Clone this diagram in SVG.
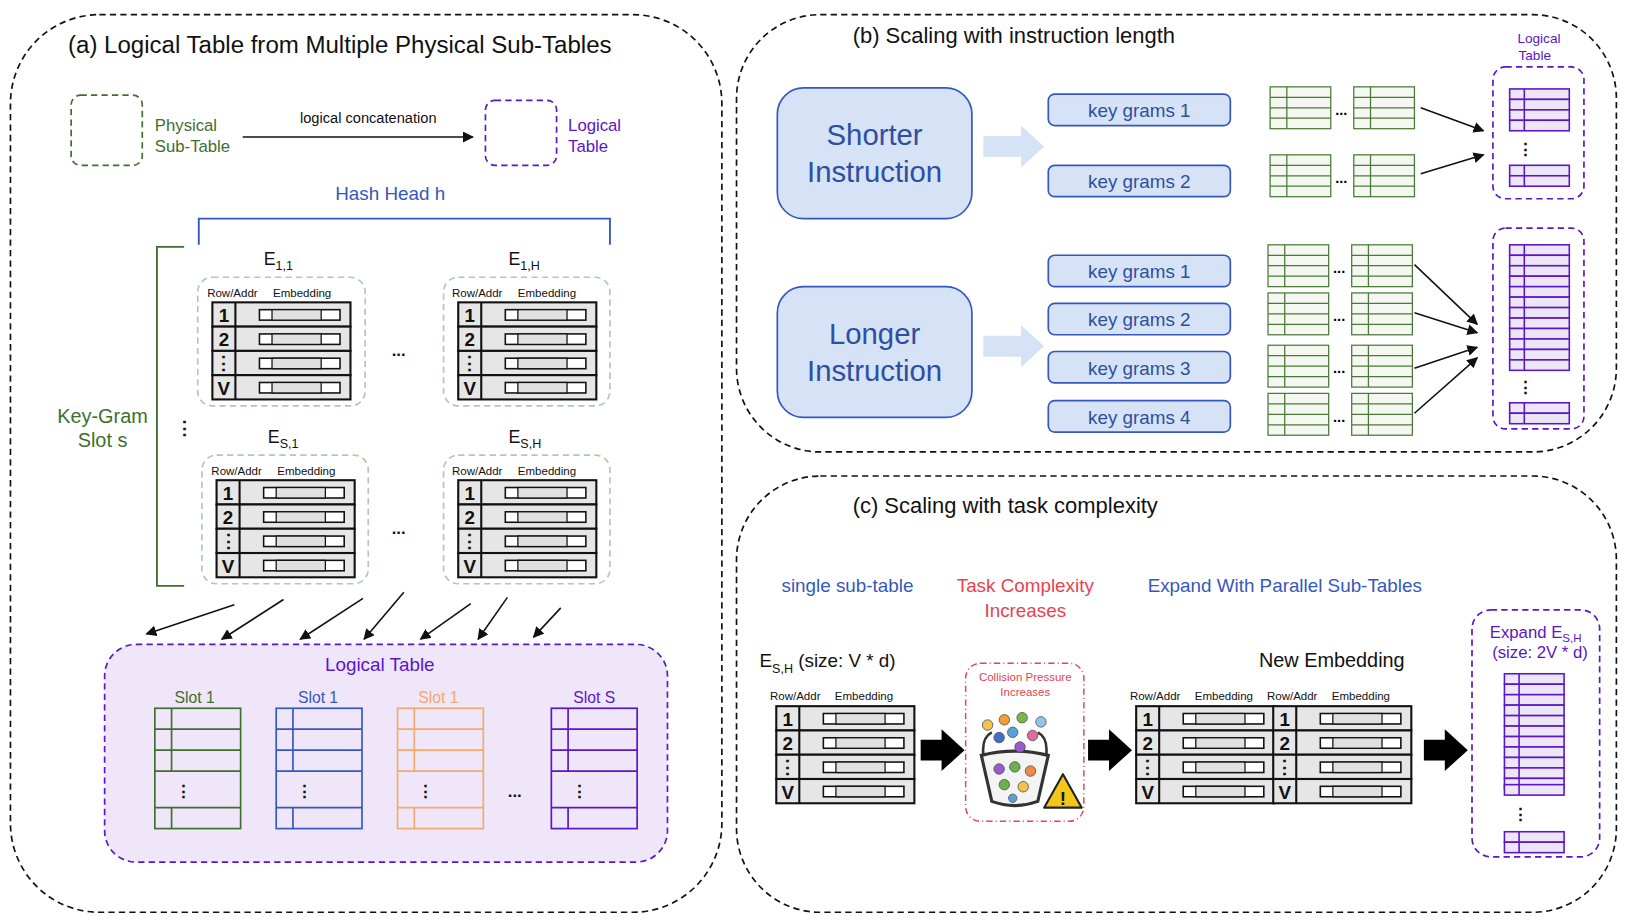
<svg xmlns="http://www.w3.org/2000/svg" xmlns:xlink="http://www.w3.org/1999/xlink" width="1632" height="920" viewBox="0 0 1632 920">
<style>
text{font-family:"Liberation Sans",Arial,sans-serif}
.panel{fill:none;stroke:#111;stroke-width:1.6;stroke-dasharray:6 4}
.blk{fill:#111}
.grn{fill:#3f6f2e}.pur{fill:#5a16c9}.blu{fill:#3557c0}.red{fill:#e8434f}.org{fill:#f5a96a}
.kg{fill:#d6e2f5;stroke:#3557c0;stroke-width:1.6}
.conn{stroke:#111;stroke-width:1.5;fill:none}
.sub{fill:none;stroke:#b8c4b8;stroke-width:1.6;stroke-dasharray:6 4}
.hd{font-size:11px;fill:#111}
</style>
<defs>
<marker id="ah" viewBox="0 0 10 10" refX="9" refY="5" markerWidth="7" markerHeight="7" orient="auto"><path d="M0,0 L10,5 L0,10z" fill="#111"/></marker>
<g id="row"><rect x="0" y="0" width="132" height="23.2" fill="#e6e6e6" stroke="#111" stroke-width="2"/><line x1="22" y1="0" x2="22" y2="23.2" stroke="#111" stroke-width="2"/><rect x="45" y="7" width="77" height="10" fill="#fff" stroke="#111" stroke-width="1.5"/><rect x="57" y="7" width="47" height="10" fill="#e0e0e0" stroke="#111" stroke-width="1.2"/></g>
<g id="tbl"><use xlink:href="#row"/><use xlink:href="#row" y="23.2"/><use xlink:href="#row" y="46.4"/><use xlink:href="#row" y="69.6"/>
<text x="11" y="19" font-size="18" font-weight="bold" text-anchor="middle" class="blk">1</text><text x="11" y="42" font-size="18" font-weight="bold" text-anchor="middle" class="blk">2</text><text x="11" y="65" font-size="18" font-weight="bold" text-anchor="middle" class="blk">⋮</text><text x="11" y="89" font-size="18" font-weight="bold" text-anchor="middle" class="blk">V</text></g>
<g id="slot" fill="none" stroke-width="1.6"><rect width="82" height="115"/><path d="M0,20H82M0,40H82M0,60H82M0,95H82M16,0V60M16,95V115"/></g>
<g id="gg" fill="#f4f8f0" stroke="#4a7a3a" stroke-width="1.2"><rect width="58" height="40"/><path d="M0,10H58M0,20H58M0,30H58M16,0V40"/></g>
<g id="pg" stroke="#5a16c9" stroke-width="1.5" fill="#ede6f7"><rect width="57" height="10"/><line x1="14" y1="0" x2="14" y2="10"/></g>
<path id="bigarr" d="M0,10H20V0L42,20L20,40V30H0z" fill="#000"/>
<path id="blarr" d="M0,10H36V0L58,20L36,40V30H0z" fill="#d6e2f5"/>
</defs>
<rect width="1632" height="920" fill="#fff"/>
<g transform="scale(1.0462)">
<g id="panel-a">
<rect class="panel" x="10" y="14" width="680" height="858" rx="85"/>
<text x="65" y="51" font-size="23" class="blk">(a) Logical Table from Multiple Physical Sub-Tables</text>
</g>
<g id="legend-physical"><rect x="68" y="91" width="68" height="67" rx="9" fill="none" stroke="#3f6f2e" stroke-width="1.6" stroke-dasharray="6 4"/><text x="148" y="125" font-size="16" class="grn">Physical</text><text x="148" y="145" font-size="16" class="grn">Sub-Table</text></g>
<g id="legend-logical"><rect x="464" y="96" width="68" height="62" rx="9" fill="none" stroke="#5a16c9" stroke-width="1.6" stroke-dasharray="6 4"/><text x="543" y="125" font-size="16" class="pur">Logical</text><text x="543" y="145" font-size="16" class="pur">Table</text></g>
<text x="352" y="118" font-size="14" text-anchor="middle" class="blk">logical concatenation</text>
<text x="373" y="191" font-size="18" text-anchor="middle" class="blu">Hash Head h</text>
<path d="M190,234V209H583V234" fill="none" stroke="#3557c0" stroke-width="1.8"/>
<path d="M176,236H150V560H176" fill="none" stroke="#3f6f2e" stroke-width="1.8"/>
<text x="98" y="404" font-size="19" text-anchor="middle" class="grn">Key-Gram</text>
<text x="98" y="427" font-size="19" text-anchor="middle" class="grn">Slot s</text>
<text x="176" y="416" font-size="18" font-weight="bold" text-anchor="middle" class="blk">⋮</text>
<g id="E11"><text x="252" y="253" font-size="17" class="blk">E<tspan font-size="12" dy="5">1,1</tspan></text><rect class="sub" x="189" y="265" width="160" height="123" rx="14"/><text x="198" y="284" class="hd">Row/Addr</text><text x="261" y="284" class="hd">Embedding</text><use xlink:href="#tbl" x="203" y="289"/></g>
<g id="E1H"><text x="486" y="253" font-size="17" class="blk">E<tspan font-size="12" dy="5">1,H</tspan></text><rect class="sub" x="424" y="265" width="159" height="123" rx="14"/><text x="432" y="284" class="hd">Row/Addr</text><text x="495" y="284" class="hd">Embedding</text><use xlink:href="#tbl" x="438" y="289"/></g>
<g id="ES1"><text x="256" y="423" font-size="17" class="blk">E<tspan font-size="12" dy="5">S,1</tspan></text><rect class="sub" x="193" y="435" width="159" height="123" rx="14"/><text x="202" y="454" class="hd">Row/Addr</text><text x="265" y="454" class="hd">Embedding</text><use xlink:href="#tbl" x="207" y="459"/></g>
<g id="ESH"><text x="486" y="423" font-size="17" class="blk">E<tspan font-size="12" dy="5">S,H</tspan></text><rect class="sub" x="424" y="435" width="159" height="123" rx="14"/><text x="432" y="454" class="hd">Row/Addr</text><text x="495" y="454" class="hd">Embedding</text><use xlink:href="#tbl" x="438" y="459"/></g>
<text x="381" y="340" font-size="16" font-weight="bold" text-anchor="middle" class="blk">...</text>
<text x="381" y="510" font-size="16" font-weight="bold" text-anchor="middle" class="blk">...</text>
<g id="logical-table">
<rect x="100" y="616" width="538" height="208" rx="30" fill="#f0e6f9" stroke="#5a16c9" stroke-width="1.6" stroke-dasharray="6 4"/>
<text x="363" y="641" font-size="18" text-anchor="middle" class="pur">Logical Table</text>
<text x="186" y="672" font-size="15" text-anchor="middle" class="grn">Slot 1</text><use xlink:href="#slot" x="148" y="677" stroke="#3f6f2e"/><text x="175" y="762" font-size="16" font-weight="bold" text-anchor="middle" class="blk">⋮</text>
<text x="304" y="672" font-size="15" text-anchor="middle" class="blu">Slot 1</text><use xlink:href="#slot" x="264" y="677" stroke="#3557c0"/><text x="291" y="762" font-size="16" font-weight="bold" text-anchor="middle" class="blk">⋮</text>
<text x="419" y="672" font-size="15" text-anchor="middle" class="org">Slot 1</text><use xlink:href="#slot" x="380" y="677" stroke="#f5a96a"/><text x="407" y="762" font-size="16" font-weight="bold" text-anchor="middle" class="blk">⋮</text>
<text x="568" y="672" font-size="15" text-anchor="middle" class="pur">Slot S</text><use xlink:href="#slot" x="527" y="677" stroke="#5a16c9"/><text x="554" y="762" font-size="16" font-weight="bold" text-anchor="middle" class="blk">⋮</text>
<text x="492" y="762" font-size="16" font-weight="bold" text-anchor="middle" class="blk">...</text>
</g>
<g id="panel-b"><rect class="panel" x="704" y="14" width="841" height="418" rx="80"/>
<text x="815" y="41" font-size="21" class="blk">(b) Scaling with instruction length</text></g>
<g id="shorter"><rect x="743" y="84" width="186" height="125" rx="25" class="kg"/><text x="836" y="139" font-size="28" text-anchor="middle" fill="#2e4fa0">Shorter</text><text x="836" y="174" font-size="28" text-anchor="middle" fill="#2e4fa0">Instruction</text></g>
<g id="longer"><rect x="743" y="274" width="186" height="125" rx="25" class="kg"/><text x="836" y="329" font-size="28" text-anchor="middle" fill="#2e4fa0">Longer</text><text x="836" y="364" font-size="28" text-anchor="middle" fill="#2e4fa0">Instruction</text></g>
<use xlink:href="#blarr" x="940" y="120"/><use xlink:href="#blarr" x="940" y="311"/>
<g id="keygrams" font-size="18">
<rect class="kg" x="1002" y="90" width="174" height="30" rx="6"/><text x="1089" y="112" text-anchor="middle" fill="#2e4fa0">key grams 1</text>
<rect class="kg" x="1002" y="158" width="174" height="30" rx="6"/><text x="1089" y="180" text-anchor="middle" fill="#2e4fa0">key grams 2</text>
<rect class="kg" x="1002" y="244" width="174" height="30" rx="6"/><text x="1089" y="266" text-anchor="middle" fill="#2e4fa0">key grams 1</text>
<rect class="kg" x="1002" y="290" width="174" height="30" rx="6"/><text x="1089" y="312" text-anchor="middle" fill="#2e4fa0">key grams 2</text>
<rect class="kg" x="1002" y="336" width="174" height="30" rx="6"/><text x="1089" y="358" text-anchor="middle" fill="#2e4fa0">key grams 3</text>
<rect class="kg" x="1002" y="383" width="174" height="30" rx="6"/><text x="1089" y="405" text-anchor="middle" fill="#2e4fa0">key grams 4</text>
</g>
<g id="green-grids" font-size="14" font-weight="bold">
<use xlink:href="#gg" x="1214" y="83"/><use xlink:href="#gg" x="1294" y="83"/><text x="1282" y="110" text-anchor="middle">...</text>
<use xlink:href="#gg" x="1214" y="148"/><use xlink:href="#gg" x="1294" y="148"/><text x="1282" y="175" text-anchor="middle">...</text>
<use xlink:href="#gg" x="1212" y="234"/><use xlink:href="#gg" x="1292" y="234"/><text x="1280" y="261" text-anchor="middle">...</text>
<use xlink:href="#gg" x="1212" y="280"/><use xlink:href="#gg" x="1292" y="280"/><text x="1280" y="307" text-anchor="middle">...</text>
<use xlink:href="#gg" x="1212" y="330"/><use xlink:href="#gg" x="1292" y="330"/><text x="1280" y="357" text-anchor="middle">...</text>
<use xlink:href="#gg" x="1212" y="376"/><use xlink:href="#gg" x="1292" y="376"/><text x="1280" y="403" text-anchor="middle">...</text>
</g>
<g id="logical-b">
<text x="1471" y="41" font-size="13" text-anchor="middle" class="pur">Logical</text><text x="1467" y="57" font-size="13" text-anchor="middle" class="pur">Table</text>
<rect x="1427" y="64" width="87" height="126" rx="12" fill="none" stroke="#5a16c9" stroke-width="1.6" stroke-dasharray="6 4"/>
<use xlink:href="#pg" x="1443" y="85"/><use xlink:href="#pg" x="1443" y="95"/><use xlink:href="#pg" x="1443" y="105"/><use xlink:href="#pg" x="1443" y="115"/>
<text x="1458" y="148" font-size="16" font-weight="bold" text-anchor="middle" class="blk">⋮</text>
<use xlink:href="#pg" x="1443" y="158"/><use xlink:href="#pg" x="1443" y="168"/>
<rect x="1427" y="218" width="87" height="192" rx="12" fill="none" stroke="#5a16c9" stroke-width="1.6" stroke-dasharray="6 4"/>
<use xlink:href="#pg" x="1443" y="234"/><use xlink:href="#pg" x="1443" y="244"/><use xlink:href="#pg" x="1443" y="254"/><use xlink:href="#pg" x="1443" y="264"/><use xlink:href="#pg" x="1443" y="274"/><use xlink:href="#pg" x="1443" y="284"/><use xlink:href="#pg" x="1443" y="294"/><use xlink:href="#pg" x="1443" y="304"/><use xlink:href="#pg" x="1443" y="314"/><use xlink:href="#pg" x="1443" y="324"/><use xlink:href="#pg" x="1443" y="334"/><use xlink:href="#pg" x="1443" y="344"/>
<text x="1458" y="376" font-size="16" font-weight="bold" text-anchor="middle" class="blk">⋮</text>
<use xlink:href="#pg" x="1443" y="385"/><use xlink:href="#pg" x="1443" y="395"/>
</g>
<g id="panel-c"><rect class="panel" x="704" y="455" width="841" height="417" rx="80"/>
<text x="815" y="490" font-size="21" class="blk">(c) Scaling with task complexity</text>
<text x="810" y="566" font-size="18" text-anchor="middle" class="blu">single sub-table</text>
<text x="980" y="566" font-size="18" text-anchor="middle" class="red">Task Complexity</text>
<text x="980" y="590" font-size="18" text-anchor="middle" class="red">Increases</text>
<text x="1228" y="566" font-size="18" text-anchor="middle" class="blu">Expand With Parallel Sub-Tables</text></g>
<g id="single"><text x="726" y="638" font-size="18" class="blk">E<tspan font-size="12" dy="5">S,H</tspan><tspan dy="-5"> (size: V * d)</tspan></text><text x="736" y="669" class="hd">Row/Addr</text><text x="798" y="669" class="hd">Embedding</text><use xlink:href="#tbl" x="742" y="675"/></g>
<g id="collision"><rect x="923" y="634" width="113" height="151" rx="14" fill="none" stroke="#e8434f" stroke-width="1.4" stroke-dasharray="6 3 1 3"/>
<text x="980" y="651" font-size="11" text-anchor="middle" class="red">Collision Pressure</text><text x="980" y="665" font-size="11" text-anchor="middle" class="red">Increases</text>
<path d="M938,722 Q970,714 1002,722 L992,766 Q970,774 948,766z" fill="#f4f4f4" stroke="#333" stroke-width="3"/>
<path d="M940,722 Q938,705 948,700 M1000,722 Q1002,705 992,700" fill="none" stroke="#333" stroke-width="2.5"/>
<g stroke="#555" stroke-width="0.8"><circle cx="944" cy="693" r="5" fill="#f2c14e"/><circle cx="960" cy="688" r="5" fill="#f0a030"/><circle cx="977" cy="686" r="5" fill="#7ab648"/><circle cx="995" cy="690" r="5" fill="#8ec5e8"/><circle cx="968" cy="700" r="5" fill="#5aa0d8"/><circle cx="987" cy="703" r="5" fill="#e06aa0"/><circle cx="955" cy="705" r="5" fill="#3f6fc8"/><circle cx="975" cy="714" r="5" fill="#9a5cc8"/><circle cx="955" cy="735" r="5" fill="#9a5cc8"/><circle cx="970" cy="733" r="5" fill="#6ab04c"/><circle cx="985" cy="737" r="5" fill="#f08a4b"/><circle cx="960" cy="750" r="5" fill="#6ab04c"/><circle cx="978" cy="752" r="5" fill="#f2c14e"/><circle cx="968" cy="763" r="4" fill="#5aa0d8"/></g>
<path d="M1016,740 L1034,772 L998,772z" fill="#f5c518" stroke="#222" stroke-width="2" stroke-linejoin="round"/><text x="1016" y="769" font-size="18" font-weight="bold" text-anchor="middle" class="blk">!</text></g>
<use xlink:href="#bigarr" x="880" y="697"/><use xlink:href="#bigarr" x="1040" y="697"/><use xlink:href="#bigarr" x="1361" y="697"/>
<g id="new-embedding"><text x="1273" y="638" font-size="19" text-anchor="middle" class="blk">New Embedding</text>
<text x="1080" y="669" class="hd">Row/Addr</text><text x="1142" y="669" class="hd">Embedding</text><text x="1211" y="669" class="hd">Row/Addr</text><text x="1273" y="669" class="hd">Embedding</text>
<use xlink:href="#tbl" x="1086" y="675"/><use xlink:href="#tbl" x="1217" y="675"/></g>
<g id="expand"><rect x="1407" y="583" width="122" height="236" rx="18" fill="none" stroke="#5a16c9" stroke-width="1.6" stroke-dasharray="6 4"/>
<text x="1424" y="610" font-size="16" class="pur">Expand E<tspan font-size="11" dy="4">S,H</tspan></text><text x="1472" y="629" font-size="16" text-anchor="middle" class="pur">(size: 2V * d)</text>
<use xlink:href="#pg" x="1438" y="644"/><use xlink:href="#pg" x="1438" y="654"/><use xlink:href="#pg" x="1438" y="664"/><use xlink:href="#pg" x="1438" y="674"/><use xlink:href="#pg" x="1438" y="684"/><use xlink:href="#pg" x="1438" y="694"/><use xlink:href="#pg" x="1438" y="704"/><use xlink:href="#pg" x="1438" y="714"/><use xlink:href="#pg" x="1438" y="724"/><use xlink:href="#pg" x="1438" y="734"/><use xlink:href="#pg" x="1438" y="744"/><use xlink:href="#pg" x="1438" y="750"/>
<text x="1453" y="784" font-size="16" font-weight="bold" text-anchor="middle" class="blk">⋮</text>
<use xlink:href="#pg" x="1438" y="795"/><use xlink:href="#pg" x="1438" y="805"/></g>
<g id="connectors" class="conn" marker-end="url(#ah)">
<line x1="232" y1="131" x2="452" y2="131"/>
<line x1="224" y1="578" x2="140" y2="606"/><line x1="271" y1="573" x2="212" y2="611"/><line x1="347" y1="572" x2="287" y2="611"/><line x1="386" y1="566" x2="348" y2="611"/><line x1="450" y1="577" x2="402" y2="611"/><line x1="485" y1="571" x2="457" y2="611"/><line x1="536" y1="581" x2="510" y2="609"/>
<line x1="1358" y1="103" x2="1418" y2="125"/><line x1="1358" y1="166" x2="1418" y2="148"/>
<line x1="1352" y1="253" x2="1412" y2="310"/><line x1="1352" y1="299" x2="1412" y2="318"/><line x1="1352" y1="352" x2="1412" y2="332"/><line x1="1352" y1="395" x2="1412" y2="342"/>
</g>
</g>
</svg>
